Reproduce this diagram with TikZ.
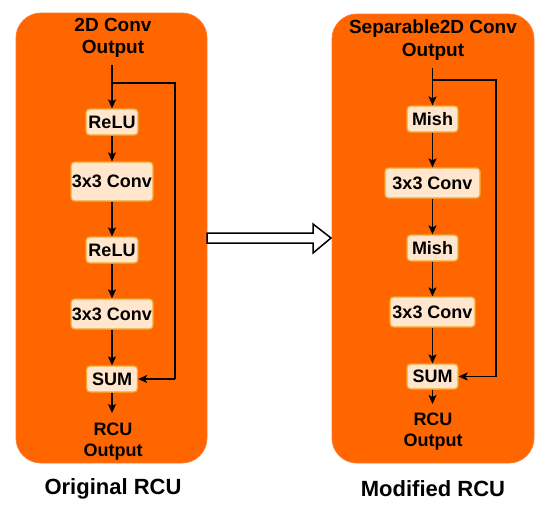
\documentclass[tikz,border=0pt]{standalone}
\usepackage{fontspec}
\setmainfont{Liberation Sans}
\usetikzlibrary{arrows.meta,calc}
\definecolor{panelfill}{HTML}{FF6600}
\definecolor{paneldraw}{HTML}{FF7A30}
\definecolor{boxfill}{HTML}{FFE6CC}
\definecolor{boxdraw}{HTML}{F0A830}
\begin{document}
\begin{tikzpicture}[x=1pt,y=-1pt,
  panel/.style={fill=panelfill,draw=paneldraw,line width=0.8pt,rounded corners=25pt},
  blk/.style={fill=boxfill,draw=boxdraw,line width=1.2pt,rounded corners=3.5pt,inner sep=0pt,
    font=\fontsize{18}{22}\selectfont\bfseries,minimum height=26pt},
  ttl/.style={align=center,inner sep=0pt,font=\fontsize{19}{22.5}\selectfont\bfseries},
  otxt/.style={align=center,inner sep=0pt,font=\fontsize{18}{21}\selectfont\bfseries},
  captext/.style={inner sep=0pt,font=\fontsize{22}{26}\selectfont\bfseries},
  flow/.style={line width=1.5pt,-{Stealth[length=9pt,width=8pt,inset=2pt]}},
  link/.style={line width=1.5pt}
]
\useasboundingbox (0,0) rectangle (550,509);
% panels
\draw[panel] (16,13) rectangle (207,463);
\node[inner sep=0pt,minimum size=0pt] (lp) at (111.5,238) {};
\draw[panel] (332,14) rectangle (534,463);
\node[inner sep=0pt,minimum size=0pt] (rp) at (433,238) {};

% left column
\node[ttl] (lt) at (113,38) {2D Conv\\Output};
\node[blk,minimum width=52pt] (lr1) at (112,122) {ReLU};
\node[blk,minimum width=82pt,minimum height=39pt] (lc1) at (112,181.5) {3x3 Conv};
\node[blk,minimum width=52pt] (lr2) at (112,250) {ReLU};
\node[blk,minimum width=82pt,minimum height=30pt] (lc2) at (112,314) {3x3 Conv};
\node[blk,minimum width=51pt] (ls) at (112,379) {SUM};
\node[otxt] (lo) at (113,442) {RCU\\Output};
\node[captext] (lcap) at (113,489) {Original RCU};
\coordinate (ltop) at (112,65);
\coordinate (lbr) at (112,83);
\coordinate (lbr2) at (175,83);
\coordinate (lbr3) at (175,379);
\draw[flow] (ltop) -- (lr1);
\draw[link] (lbr) -- (lbr2) -- (lbr3);
\draw[flow] (lbr3) -- (ls.east);
\draw[flow] (lr1) -- (lc1);
\draw[flow] (lc1) -- (lr2);
\draw[flow] (lr2) -- (lc2);
\draw[flow] (lc2) -- (ls);
\coordinate (lend) at (112,413);
\draw[flow] (ls) -- (lend);

% right column
\node[ttl] (rt) at (433,40) {Separable2D Conv\\Output};
\node[blk,minimum width=51pt] (rm1) at (432.5,119) {Mish};
\node[blk,minimum width=95pt,minimum height=30pt] (rc1) at (432.5,183) {3x3 Conv};
\node[blk,minimum width=51pt] (rm2) at (432.5,248) {Mish};
\node[blk,minimum width=85pt,minimum height=30pt] (rc2) at (432.5,312) {3x3 Conv};
\node[blk,minimum width=51pt,minimum height=25pt] (rs) at (432.5,376.5) {SUM};
\node[otxt] (ro) at (433,432) {RCU\\Output};
\node[captext] (rcap) at (433,489) {Modified RCU};
\coordinate (rtop) at (432.5,68);
\coordinate (rbr) at (432.5,80);
\coordinate (rbr2) at (496,80);
\coordinate (rbr3) at (496,376.5);
\draw[flow] (rtop) -- (rm1);
\draw[link] (rbr) -- (rbr2) -- (rbr3);
\draw[flow] (rbr3) -- (rs.east);
\draw[flow] (rm1) -- (rc1);
\draw[flow] (rc1) -- (rm2);
\draw[flow] (rm2) -- (rc2);
\draw[flow] (rc2) -- (rs);
\coordinate (rend) at (432.5,404);
\draw[flow] (rs) -- (rend);

% big hollow arrow between panels
\draw[fill=white,draw=black,line width=1.5pt,line join=miter]
  (207,233) -- (313,233) -- (313,224) -- (331,238) -- (313,253) -- (313,243) -- (207,243) -- cycle;
\end{tikzpicture}
\end{document}
